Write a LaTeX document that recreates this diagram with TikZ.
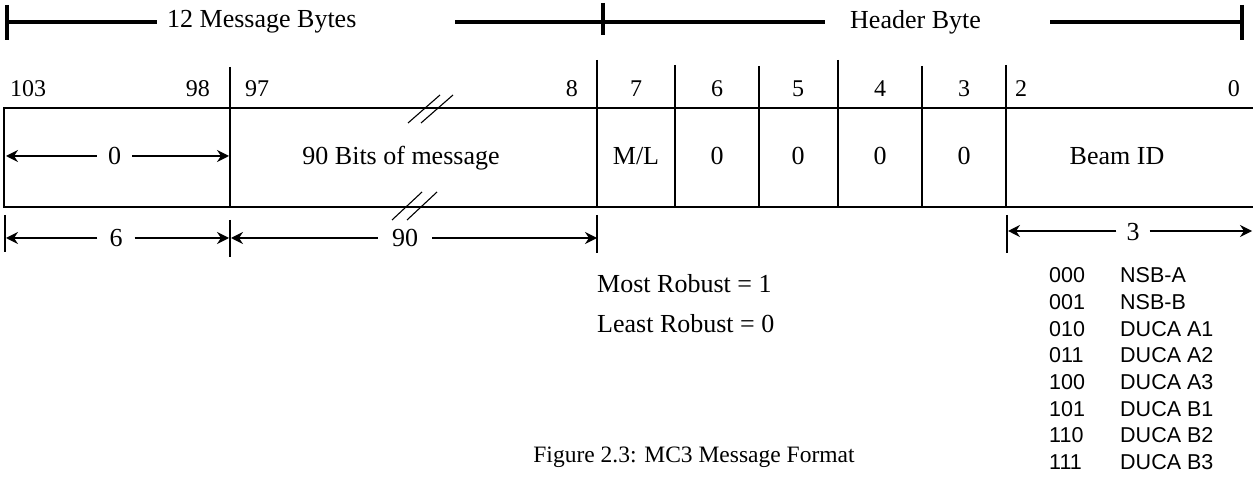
\documentclass[tikz,border=0pt]{standalone}
\usepackage{fontspec}
\setmainfont{Liberation Serif}
\newfontfamily\listfont{Liberation Sans}
\usepackage{tikz}
\usetikzlibrary{arrows.meta}

\begin{document}
\begin{tikzpicture}[x=1pt, y=-1pt, >={Stealth[length=12pt, width=12pt, inset=4pt]},
    bar/.style={line width=4pt},
    rule/.style={line width=1.1pt},
    dimline/.style={line width=1.4pt, ->},
    toptxt/.style={font=\fontsize{26}{30}\selectfont, inner ysep=0pt},
    bitnum/.style={font=\fontsize{24}{28}\selectfont, inner sep=0pt},
    celltxt/.style={font=\fontsize{26}{30}\selectfont, inner sep=0pt, anchor=base},
    dimlbl/.style={font=\fontsize{26}{30}\selectfont, inner xsep=11pt, inner ysep=0pt},
    codetxt/.style={font=\listfont\fontsize{21.5}{25}\selectfont, inner sep=0pt, anchor=base west}]
    \useasboundingbox (0,0) rectangle (1253,478);

    % top bracket
    \coordinate (barL) at (7,22);
    \coordinate (barM1) at (455,22);
    \coordinate (barM) at (603,22);
    \coordinate (barM2) at (1050,22);
    \coordinate (barR) at (1242,22);
    \node[toptxt, anchor=west, inner xsep=10pt] (msgbytes) at (157,22) {12 Message Bytes};
    \node[toptxt, anchor=west, inner xsep=25pt] (hdrbyte) at (825,22) {Header Byte};
    \draw[bar] (barL) -- (msgbytes.west);
    \draw[bar] (barM1) -- (hdrbyte.west);
    \draw[bar] (barM2) -- (barR);
    \draw[bar] (7,5) -- (7,40);
    \draw[bar] (603,3) -- (603,35);
    \draw[bar] (1242,5) -- (1242,40);

    % register box
    \draw[rule] (1253,108) -- (4,108) -- (4,207) -- (1253,207);
    \foreach \x/\t in {230/67, 597/60, 675/65, 759/66, 838/60, 922/66, 1006/65}
        \draw[rule] (\x,\t) -- (\x,207);

    % bit numbers
    \node[bitnum, anchor=base west] (b103) at (10,97) {103};
    \node[bitnum, anchor=base east] (b98) at (210,97) {98};
    \node[bitnum, anchor=base west] (b97) at (245,97) {97};
    \node[bitnum, anchor=base east] (b8) at (578,97) {8};
    \foreach \x/\b in {636/7, 717/6, 798/5, 880/4, 964/3}
        \node[bitnum, anchor=base] (b\b) at (\x,97) {\b};
    \node[bitnum, anchor=base west] (b2) at (1015,97) {2};
    \node[bitnum, anchor=base east] (b0) at (1240,97) {0};

    % fields
    \coordinate (padL) at (6,156);
    \coordinate (padR) at (229,156);
    \node[dimlbl] (padlen) at (114.5,156) {0};
    \draw[dimline] (padlen) -- (padL);
    \draw[dimline] (padlen) -- (padR);
    \node[celltxt] (msgbits) at (401,165) {90 Bits of message};
    \node[celltxt] (mlbit) at (636,165) {M/L};
    \foreach \x/\b in {717/6, 798/5, 880/4, 964/3}
        \node[celltxt] (z\b) at (\x,165) {0};
    \node[celltxt] (beamid) at (1117,165) {Beam ID};

    % break marks
    \draw[rule] (408,123) -- (440,95);
    \draw[rule] (421,123) -- (453,95);
    \draw[rule] (392,220) -- (422,192);
    \draw[rule] (407,220) -- (437,192);

    % lengths
    \foreach \x/\a/\b in {5/215/252, 230/220/257, 597/215/253, 1007/215/253}
        \draw[rule] (\x,\a) -- (\x,\b);
    \coordinate (lenA) at (6,238);
    \coordinate (lenB) at (229,238);
    \coordinate (lenC) at (231,238);
    \coordinate (lenD) at (597,238);
    \coordinate (lenE) at (1008,231);
    \coordinate (lenF) at (1252,231);
    \node[dimlbl, inner xsep=12pt] (len6) at (116,238) {6};
    \node[dimlbl, inner xsep=14pt] (len90) at (405,238) {90};
    \node[dimlbl, inner xsep=10pt] (len3) at (1133,232) {3};
    \draw[dimline] (len6) -- (lenA);
    \draw[dimline] (len6) -- (lenB);
    \draw[dimline] (len90) -- (lenC);
    \draw[dimline] (len90) -- (lenD);
    \draw[dimline] (len3.west |- lenE) -- (lenE);
    \draw[dimline] (len3.east |- lenF) -- (lenF);

    % notes
    \node[celltxt, anchor=base west] (most) at (597,293) {Most Robust = 1};
    \node[celltxt, anchor=base west] (least) at (597,333) {Least Robust = 0};
    \foreach \code/\name [count=\i from 0] in {000/NSB-A, 001/NSB-B, 010/DUCA A1, 011/DUCA A2,
            100/DUCA A3, 101/DUCA B1, 110/DUCA B2, 111/DUCA B3} {
        \node[codetxt] (code\code) at (1049,{283+26.6*\i}) {\code};
        \node[codetxt] (name\code) at (1120,{283+26.6*\i}) {\name};
    }

    \node[font=\fontsize{23.5}{27}\selectfont, inner sep=0pt, anchor=base] (caption) at (694,462)
        {Figure 2.3: MC3 Message Format};
\end{tikzpicture}
\end{document}
